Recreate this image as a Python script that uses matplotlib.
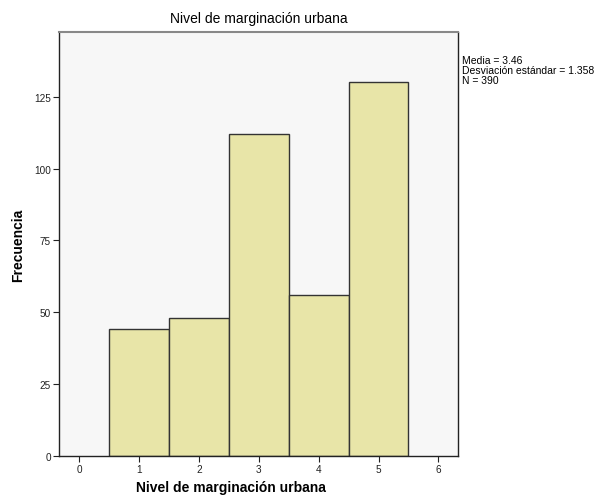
import numpy as np
import matplotlib
matplotlib.use("Agg")
from matplotlib import pyplot as plt

# histogram data (values 1..5, frequency)
categories = [1, 2, 3, 4, 5]
frequencies = [44, 48, 112, 56, 130]
x_ticks = [0, 1, 2, 3, 4, 5, 6]
y_ticks = [0, 25, 50, 75, 100, 125]
stats_lines = ["Media = 3.46", "Desviación estándar = 1.358", "N = 390"]

plt.rcParams['font.family'] = ['Liberation Sans', 'DejaVu Sans']

fig = plt.figure(figsize=(6.04, 5.02), dpi=100)
ax = fig.add_axes([0.0982, 0.0902, 0.6606, 0.8438])
ax.set_facecolor('#f7f7f7')

ax.bar(categories, frequencies, width=1.0, color='#e8e5a8',
       edgecolor='#333333', linewidth=1.0, zorder=2)

ax.set_xlim(-1 / 3, 6 + 1 / 3)
ax.set_ylim(0, 147.5)
ax.set_xticks(x_ticks)
ax.set_yticks(y_ticks)
ax.tick_params(axis='both', direction='out', length=4, width=0.8,
               labelsize=7.2, colors='#222222', pad=2)

for side in ['left', 'bottom', 'right']:
    ax.spines[side].set_color('#222222')
    ax.spines[side].set_linewidth(1.0)
ax.spines['top'].set_color('#888888')
ax.spines['top'].set_linewidth(1.5)

ax.set_title("Nivel de marginación urbana", fontsize=10, pad=7)

# axis labels placed in figure pixels to match the reference
fig.text(231 / 604, 1 - 488 / 502, "Nivel de marginación urbana", fontsize=10,
         fontweight='bold', ha='center', va='center')
fig.text(18 / 604, 1 - 245 / 502, "Frecuencia", fontsize=10, fontweight='bold',
         ha='center', va='center', rotation=90)

fig.text(0.7644, 1 - 56 / 502, "\n".join(stats_lines), fontsize=7.5,
         va='top', ha='left', linespacing=1.0)

fig.savefig("out.png", dpi=100, facecolor='white')
